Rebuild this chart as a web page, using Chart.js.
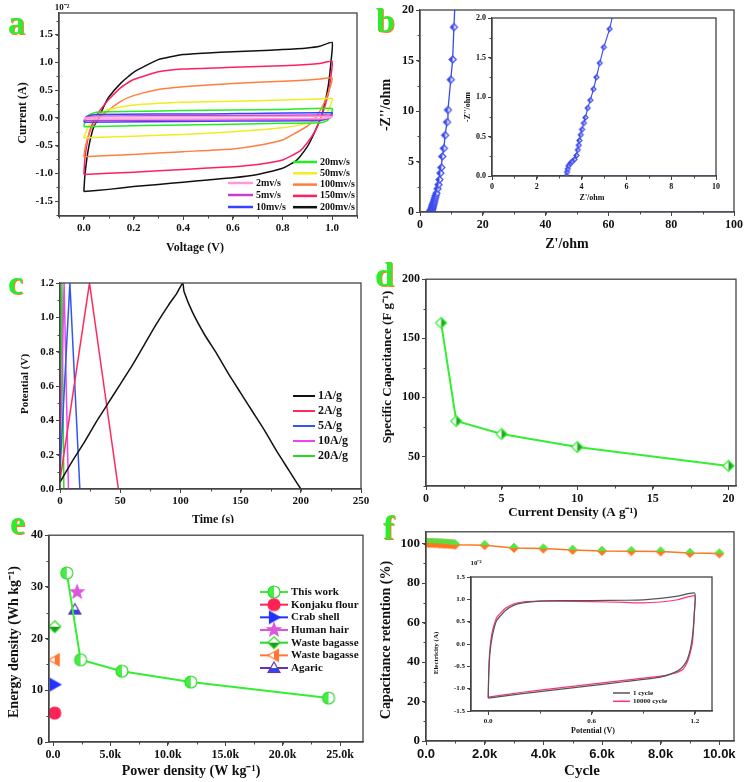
<!DOCTYPE html>
<html>
<head>
<meta charset="utf-8">
<script src="https://cdn.jsdelivr.net/npm/chart.js@4.4.1/dist/chart.umd.min.js"></script>
<style>
  html, body { margin: 0; padding: 0; background: #fff; }
  #fig { position: relative; width: 746px; height: 782px; overflow: hidden; background: #fff; }
  #fig canvas { position: absolute; }
  #clipC { position: absolute; left: 0; top: 0; width: 373px; height: 523px; overflow: hidden; }
  .tag { position: absolute; z-index: 5; font: bold 34px "Liberation Serif", serif; line-height: 1; color: #2cec2c; text-shadow: 1px 1px 0 #ff7a30; }
</style>
</head>
<body>
<div id="fig">
  <div id="clipC"></div>
  <div class="tag" style="left:8px;top:6px">a</div>
  <div class="tag" style="left:376px;top:4px">b</div>
  <div class="tag" style="left:8px;top:266px">c</div>
  <div class="tag" style="left:375px;top:258px">d</div>
  <div class="tag" style="left:10px;top:506px">e</div>
  <div class="tag" style="left:383px;top:511px">f</div>
</div>
<script>
// ---------- (a) CV at different scan rates (current x 10^-2 A)
const cvLabels = ['2mv/s', '5mv/s', '10mv/s', '20mv/s', '50mv/s', '100mv/s', '150mv/s', '200mv/s'];
const cvColors = ['#ff9ad8', '#c83cd0', '#3344ff', '#22ee22', '#eeee22', '#ff7f3f', '#ff1f5f', '#111111'];
const cvVsmall = [0.0, 0.01, 0.05, 0.5, 1.0, 0.99, 0.95, 0.5, 0.0];
const cvI2 = [-0.02, 0.0, 0.015, 0.02, 0.025, 0.0, -0.015, -0.02, -0.02];
const cvI5 = [-0.05, 0.01, 0.03, 0.04, 0.05, 0.0, -0.03, -0.04, -0.05];
const cvI10 = [-0.08, 0.02, 0.06, 0.07, 0.09, 0.0, -0.05, -0.06, -0.08];
const cvV20 = [0.0, 0.005, 0.02, 0.05, 0.1, 0.4, 0.8, 1.0, 0.995, 0.98, 0.95, 0.8, 0.4, 0.1, 0.0];
const cvI20 = [-0.16, -0.05, 0.05, 0.1, 0.11, 0.13, 0.15, 0.17, 0.05, -0.05, -0.09, -0.1, -0.13, -0.15, -0.16];
const cvV50 = [0.0, 0.005, 0.02, 0.05, 0.1, 0.2, 0.4, 0.6, 0.8, 0.95, 1.0, 0.995, 0.98, 0.95, 0.9, 0.8, 0.6, 0.4, 0.2, 0.0];
const cvI50 = [-0.36, -0.3, -0.15, 0.02, 0.15, 0.23, 0.28, 0.3, 0.32, 0.34, 0.35, 0.25, 0.1, -0.03, -0.1, -0.18, -0.25, -0.3, -0.33, -0.36];
const cvV100 = [0.0, 0.005, 0.02, 0.04, 0.07, 0.1, 0.15, 0.2, 0.3, 0.4, 0.6, 0.8, 0.9, 0.95, 1.0, 0.995, 0.98, 0.96, 0.93, 0.9, 0.85, 0.8, 0.7, 0.6, 0.4, 0.2, 0.0];
const cvI100 = [-0.7, -0.55, -0.3, -0.12, 0.03, 0.14, 0.3, 0.4, 0.51, 0.56, 0.62, 0.66, 0.68, 0.7, 0.72, 0.6, 0.4, 0.2, -0.02, -0.15, -0.28, -0.4, -0.5, -0.56, -0.61, -0.66, -0.7];
const cvV150 = [0.0, 0.005, 0.02, 0.04, 0.06, 0.08, 0.1, 0.15, 0.2, 0.3, 0.4, 0.6, 0.8, 0.9, 0.95, 1.0, 0.995, 0.985, 0.97, 0.95, 0.93, 0.9, 0.87, 0.8, 0.7, 0.6, 0.4, 0.2, 0.0];
const cvI150 = [-1.02, -0.7, -0.3, -0.05, 0.1, 0.22, 0.33, 0.55, 0.69, 0.83, 0.88, 0.91, 0.94, 0.96, 0.98, 1.02, 0.75, 0.45, 0.2, -0.05, -0.25, -0.45, -0.6, -0.76, -0.84, -0.88, -0.93, -0.98, -1.02];
const cvV200 = [0.0, 0.005, 0.02, 0.04, 0.06, 0.08, 0.1, 0.15, 0.2, 0.3, 0.4, 0.5, 0.6, 0.7, 0.8, 0.9, 0.95, 1.0, 0.995, 0.985, 0.97, 0.955, 0.94, 0.92, 0.9, 0.87, 0.85, 0.8, 0.7, 0.6, 0.5, 0.4, 0.3, 0.2, 0.1, 0.0];
const cvI200 = [-1.33, -1.0, -0.52, -0.16, 0.0, 0.2, 0.37, 0.63, 0.82, 1.05, 1.14, 1.17, 1.19, 1.21, 1.23, 1.26, 1.29, 1.36, 1.0, 0.6, 0.25, 0.0, -0.15, -0.35, -0.52, -0.7, -0.79, -0.91, -1.02, -1.08, -1.12, -1.16, -1.2, -1.24, -1.29, -1.33];

// ---------- (b) Nyquist plot
const zRe = [3.33, 3.35, 3.38, 3.42, 3.5, 3.57, 3.68, 3.77, 3.83, 3.87, 3.9, 3.96, 4.02, 4.1, 4.17, 4.27, 4.39, 4.53, 4.66, 4.81, 4.99, 5.25, 5.6, 5.9, 6.2, 6.5, 6.8, 7.1, 7.6, 8.0, 8.6, 8.9, 9.8, 10.4, 10.8, 11.2];
const zIm = [0.0, 0.05, 0.09, 0.13, 0.16, 0.18, 0.21, 0.26, 0.33, 0.39, 0.45, 0.52, 0.59, 0.67, 0.74, 0.86, 0.96, 1.1, 1.25, 1.43, 1.63, 1.86, 2.3, 2.7, 3.2, 3.85, 4.4, 5.5, 6.3, 7.6, 8.9, 10.1, 13.1, 15.1, 18.3, 21.0];
const zBaseRe = [5, 100];
const zBaseIm = [0, 0];
const zBaseInsetRe = [3.6, 10];

// ---------- (c) galvanostatic charge/discharge
const gcdLabels = ['1A/g', '2A/g', '5A/g', '10A/g', '20A/g'];
const gcdColors = ['#111111', '#ff2a5a', '#3355ee', '#ee44ee', '#22dd22'];
const gcdT1 = [0, 10, 20, 30, 40, 50, 60, 70, 80, 90, 97, 102, 103, 110, 120, 130, 140, 150, 160, 170, 180, 190, 200];
const gcdV1 = [0.04, 0.16, 0.27, 0.39, 0.5, 0.61, 0.72, 0.84, 0.96, 1.07, 1.14, 1.2, 1.15, 1.03, 0.9, 0.79, 0.67, 0.56, 0.45, 0.34, 0.22, 0.11, 0.0];
const gcdT2 = [0, 24.5, 48.5];
const gcdV2 = [0.05, 1.2, 0.0];
const gcdT5 = [0, 8.2, 16.5];
const gcdV5 = [0.1, 1.2, 0.0];
const gcdT10 = [0, 3.4, 7];
const gcdV10 = [0.15, 1.2, 0.0];
const gcdT20 = [0, 1.6, 3.2];
const gcdV20 = [0.25, 1.2, 0.0];

// ---------- (d) specific capacitance vs current density
const curDensity = [1, 2, 5, 10, 20];
const specCap = [163, 80, 69, 58, 42];

// ---------- (e) Ragone plot
const powThis = [1200, 2400, 6000, 12000, 24000];
const engThis = [32.7, 15.9, 13.7, 11.6, 8.5];
const refLabels = ['Konjaku flour', 'Crab shell', 'Human hair', 'Waste bagasse', 'Waste bagasse', 'Agaric'];
const refPow = [150, 150, 2100, 150, 150, 1900];
const refEng = [5.6, 11.1, 29.0, 22.3, 15.9, 25.6];

// ---------- (f) cycling stability + inset CV
const cycles = [0, 50, 100, 150, 200, 250, 300, 350, 400, 450, 500, 550, 600, 650, 700, 750, 800, 850, 900, 950, 1000, 2000, 3000, 4000, 5000, 6000, 7000, 8000, 9000, 10000];
const retention = [100.4, 100.5, 100.3, 100.4, 100.3, 100.4, 100.2, 100.3, 100.2, 100.1, 100.2, 100.0, 100.1, 99.9, 100.0, 99.9, 99.8, 99.8, 99.7, 99.6, 99.5, 99.2, 97.8, 97.5, 96.8, 96.3, 96.2, 96.0, 95.2, 95.0];
const cyc1V = [0.0, 0.003, 0.01, 0.025, 0.05, 0.1, 0.15, 0.2, 0.3, 0.4, 0.6, 0.8, 0.9, 1.0, 1.1, 1.2, 1.197, 1.19, 1.18, 1.165, 1.15, 1.12, 1.08, 1.0, 0.8, 0.6, 0.4, 0.2, 0.0];
const cyc1I = [-1.21, -0.7, -0.2, 0.2, 0.53, 0.75, 0.87, 0.92, 0.96, 0.97, 0.97, 0.98, 0.99, 1.02, 1.07, 1.14, 0.7, 0.3, 0.0, -0.25, -0.4, -0.55, -0.64, -0.74, -0.84, -0.93, -1.02, -1.11, -1.21];
const cyc10kV = [0.0, 0.003, 0.01, 0.025, 0.05, 0.1, 0.15, 0.2, 0.3, 0.4, 0.6, 0.8, 0.9, 1.0, 1.1, 1.2, 1.198, 1.192, 1.185, 1.17, 1.155, 1.13, 1.09, 1.0, 0.8, 0.6, 0.4, 0.2, 0.0];
const cyc10kI = [-1.19, -0.6, -0.1, 0.3, 0.6, 0.8, 0.9, 0.94, 0.96, 0.96, 0.95, 0.93, 0.92, 0.94, 0.99, 1.08, 0.7, 0.3, 0.0, -0.25, -0.42, -0.57, -0.65, -0.72, -0.81, -0.9, -0.99, -1.08, -1.19];

// ---------- helpers
const SERIF = 'Liberation Serif';
const fig = document.getElementById('fig');
const pts = (xs, ys) => xs.map((x, i) => ({ x, y: ys[i] }));
const f1 = v => v.toFixed(1);
const f0 = v => String(Math.round(v));
const fk = v => v === 0 ? '0.0' : (v / 1000).toFixed(1) + 'k';

// small canvas markers, optionally half filled
function marker(shape, size, line, fillA, fillB, split) {
  const c = document.createElement('canvas');
  c.width = c.height = size + 4;
  const g = c.getContext('2d'), m = c.width / 2, r = size / 2;
  const path = () => {
    g.beginPath();
    if (shape === 'circle') g.arc(m, m, r, 0, Math.PI * 2);
    else if (shape === 'diamond') { g.moveTo(m, m - r); g.lineTo(m + r, m); g.lineTo(m, m + r); g.lineTo(m - r, m); }
    else if (shape === 'triUp') { g.moveTo(m, m - r); g.lineTo(m + r, m + r * 0.75); g.lineTo(m - r, m + r * 0.75); }
    else if (shape === 'triRight') { g.moveTo(m + r, m); g.lineTo(m - r * 0.75, m - r); g.lineTo(m - r * 0.75, m + r); }
    else if (shape === 'triLeft') { g.moveTo(m - r, m); g.lineTo(m + r * 0.75, m - r); g.lineTo(m + r * 0.75, m + r); }
    else if (shape === 'star') {
      for (let k = 0; k < 10; k++) {
        const a = -Math.PI / 2 + k * Math.PI / 5, rr = k % 2 ? r * 0.42 : r;
        g.lineTo(m + rr * Math.cos(a), m + rr * Math.sin(a));
      }
    }
    g.closePath();
  };
  path(); g.fillStyle = fillB; g.fill();
  if (split) {
    g.save(); path(); g.clip(); g.fillStyle = fillA;
    if (split === 'left') g.fillRect(0, 0, m, c.height);
    if (split === 'right') g.fillRect(m, 0, m, c.height);
    if (split === 'top') g.fillRect(0, 0, c.width, m);
    if (split === 'bottom') g.fillRect(0, m, c.width, m);
    g.restore();
  }
  path(); g.lineWidth = 1.2; g.strokeStyle = line; g.stroke();
  return c;
}

// labelled (major) ticks at every multiple of step; minor ticks come from the deco plugin
function axis(min, max, step, fmt, size, fam) {
  return {
    type: 'linear', min, max,
    border: { color: '#444', width: 1.3 },
    grid: { drawOnChartArea: false, color: '#444', tickLength: 4, tickWidth: 1 },
    ticks: {
      autoSkip: false, maxRotation: 0, padding: 2, color: '#111',
      font: { family: fam || SERIF, size, weight: 'bold' },
      callback: v => fmt(v)
    },
    afterBuildTicks: s => {
      const t = [];
      for (let k = Math.ceil(min / step - 1e-9); k * step <= max + 1e-9; k++) t.push({ value: +(k * step).toFixed(6) });
      s.ticks = t;
    }
  };
}

function line(label, xs, ys, color, width, extra) {
  return Object.assign({ label, data: pts(xs, ys), showLine: true, borderColor: color, backgroundColor: color,
    borderWidth: width, pointRadius: 0, tension: 0 }, extra || {});
}

// frame, minor ticks, free texts and hand placed legends (page coordinates)
function decoPlugin(spec, ox, oy) {
  return {
    id: 'deco',
    afterDraw(chart) {
      const ctx = chart.ctx, a = chart.chartArea, sx = chart.scales.x, sy = chart.scales.y;
      ctx.save();
      ctx.strokeStyle = '#444'; ctx.lineWidth = 1.3;
      ctx.strokeRect(a.left, a.top, a.right - a.left, a.bottom - a.top);
      if (spec.minor) {
        const [mx, my] = spec.minor;
        ctx.lineWidth = 1;
        ctx.beginPath();
        for (let v = Math.ceil(sx.min / mx - 1e-9) * mx; v <= sx.max + 1e-9; v += mx) {
          const p = Math.round(sx.getPixelForValue(v)) + 0.5;
          ctx.moveTo(p, a.bottom); ctx.lineTo(p, a.bottom + 2.5);
        }
        for (let v = Math.ceil(sy.min / my - 1e-9) * my; v <= sy.max + 1e-9; v += my) {
          const p = Math.round(sy.getPixelForValue(v)) + 0.5;
          ctx.moveTo(a.left, p); ctx.lineTo(a.left - 2.5, p);
        }
        ctx.stroke();
      }
      ctx.fillStyle = '#111'; ctx.textBaseline = 'middle';
      (spec.texts || []).forEach(t => {
        ctx.save();
        ctx.translate(t.x - ox, t.y - oy);
        if (t.rot) ctx.rotate(t.rot * Math.PI / 180);
        ctx.font = 'bold ' + t.size + 'px "' + SERIF + '"';
        ctx.textAlign = 'center';
        ctx.fillText(t.text, 0, 0);
        ctx.restore();
      });
      (spec.legends || []).forEach(L => {
        L.items.forEach((di, i) => {
          const ds = chart.data.datasets[di];
          const x = L.x - ox, y = L.y + i * L.dy - oy;
          ctx.strokeStyle = ds.borderColor; ctx.lineWidth = L.lw;
          ctx.beginPath(); ctx.moveTo(x, y); ctx.lineTo(x + L.len, y); ctx.stroke();
          if (L.marks && ds.pointStyle) {
            const p = ds.pointStyle;
            ctx.drawImage(p, x + L.len / 2 - p.width / 2, y - p.height / 2);
          }
          ctx.font = 'bold ' + L.size + 'px "' + SERIF + '"';
          ctx.textAlign = 'left';
          ctx.fillText(ds.label, x + L.len + 3, y);
        });
      });
      ctx.restore();
    }
  };
}

// box = plot area in page pixels, pad = room for ticks/titles around it
function panel(parent, box, pad, datasets, xAxis, yAxis, spec) {
  const c = document.createElement('canvas');
  const W = box.w + pad.l + pad.r, H = box.h + pad.t + pad.b;
  const ox = box.x - pad.l, oy = box.y - pad.t;
  c.width = W; c.height = H;
  c.style.left = ox + 'px'; c.style.top = oy + 'px';
  c.style.width = W + 'px'; c.style.height = H + 'px';
  parent.appendChild(c);
  xAxis.afterFit = s => { s.height = pad.b; };
  yAxis.afterFit = s => { s.width = pad.l; };
  return new Chart(c, {
    type: 'scatter',
    data: { datasets },
    options: {
      responsive: false, animation: false, events: [],
      layout: { padding: { left: 0, top: pad.t, right: pad.r, bottom: 0 } },
      plugins: { legend: { display: false }, tooltip: { enabled: false } },
      scales: { x: xAxis, y: yAxis }
    },
    plugins: [decoPlugin(spec, ox, oy)]
  });
}

// ---------- (a)
const cvV = [cvVsmall, cvVsmall, cvVsmall, cvV20, cvV50, cvV100, cvV150, cvV200];
const cvI = [cvI2, cvI5, cvI10, cvI20, cvI50, cvI100, cvI150, cvI200];
panel(fig, { x: 59, y: 13, w: 298, h: 203 }, { l: 56, t: 13, r: 16, b: 42 },
  cvLabels.map((l, i) => line(l, cvV[i], cvI[i], cvColors[i], 1.5, { tension: 0.15 })),
  axis(-0.1, 1.1, 0.2, f1, 11), axis(-1.77, 1.89, 0.5, f1, 11),
  {
    minor: [0.1, 0.25],
    texts: [
      { text: 'Current (A)', x: 23, y: 113, rot: -90, size: 12 },
      { text: 'Voltage (V)', x: 195, y: 248, size: 12 },
      { text: '10\u207B\u00B2', x: 62, y: 8, size: 9 }
    ],
    legends: [
      { x: 228, y: 183, dy: 12, len: 25, lw: 2.5, size: 10, items: [0, 1, 2] },
      { x: 293, y: 162, dy: 11.3, len: 24, lw: 2.5, size: 10, items: [3, 4, 5, 6, 7] }
    ]
  });

// ---------- (b) main + inset
const bMark = marker('diamond', 7, '#3a48ee', '#3a48ee', '#ffffff', 'left');
const bMarkS = marker('diamond', 5, '#3a48ee', '#3a48ee', '#ffffff', 'left');
panel(fig, { x: 420, y: 10, w: 314, h: 202 }, { l: 45, t: 10, r: 12, b: 42 },
  [
    line('Nyquist', zRe, zIm, '#3a48ee', 1.3, { pointRadius: 3, pointStyle: bMark }),
    line('base', zBaseRe, zBaseIm, '#7d88ff', 1)
  ],
  axis(0, 100, 20, f0, 12), axis(0, 20, 5, f0, 12),
  { minor: [10, 2.5],
    texts: [
      { text: "-Z''/ohm", x: 386, y: 105, rot: -90, size: 14 },
      { text: "Z'/ohm", x: 567, y: 244, size: 14 }
  ] });
panel(fig, { x: 492, y: 18, w: 224, h: 158 }, { l: 32, t: 8, r: 12, b: 28 },
  [
    line('Nyquist', zRe, zIm, '#3a48ee', 1.1, { pointRadius: 3, pointStyle: bMarkS }),
    line('base', zBaseInsetRe, zBaseIm, '#7d88ff', 1)
  ],
  axis(0, 10, 2, f0, 8), axis(0, 2, 0.5, f1, 8),
  { minor: [1, 0.25],
    texts: [
      { text: "-Z''/ohm", x: 468, y: 107, rot: -90, size: 8 },
      { text: "Z'/ohm", x: 592, y: 198, size: 8 }
  ] });

// ---------- (c)
const gcdT = [gcdT1, gcdT2, gcdT5, gcdT10, gcdT20];
const gcdV = [gcdV1, gcdV2, gcdV5, gcdV10, gcdV20];
panel(document.getElementById('clipC'), { x: 60, y: 283, w: 301, h: 206 }, { l: 56, t: 10, r: 12, b: 40 },
  gcdLabels.map((l, i) => line(l, gcdT[i], gcdV[i], gcdColors[i], 1.5, { tension: i === 0 ? 0.2 : 0 })),
  axis(0, 250, 50, f0, 11), axis(0, 1.2, 0.2, f1, 11),
  {
    minor: [25, 0.1],
    texts: [
      { text: 'Potential (V)', x: 25, y: 384, rot: -90, size: 11 },
      { text: 'Time (s)', x: 213, y: 520, size: 12 }
    ],
    legends: [{ x: 293, y: 396, dy: 15, len: 22, lw: 2, size: 12, items: [0, 1, 2, 3, 4] }]
  });

// ---------- (d)
const dMark = marker('diamond', 11, '#33ee33', '#1fa81f', '#ffffff', 'right');
panel(fig, { x: 426, y: 278, w: 310, h: 208 }, { l: 50, t: 8, r: 10, b: 36 },
  [line('Specific capacitance', curDensity, specCap, '#33ee33', 2, { pointRadius: 4, pointStyle: dMark })],
  axis(0, 20.5, 5, f0, 12), axis(25, 200, 50, f0, 12),
  { minor: [2.5, 25],
    texts: [
      { text: 'Specific Capacitance (F g\u207B\u00B9)', x: 388, y: 367, rot: -90, size: 13 },
      { text: 'Current Density (A g\u207B\u00B9)', x: 573, y: 513, size: 13 }
  ] });

// ---------- (e)
const eMarks = [
  marker('circle', 12, '#2fd82f', '#44ee44', '#ffffff', 'left'),
  marker('circle', 12, '#ff2255', '#ff2255', '#ff2255'),
  marker('triRight', 12, '#2233ff', '#2233ff', '#2233ff'),
  marker('star', 14, '#dd55dd', '#dd55dd', '#dd55dd'),
  marker('diamond', 12, '#22dd22', '#1f9a1f', '#ffffff', 'bottom'),
  marker('triLeft', 12, '#ff7733', '#ff7733', '#ffffff', 'right'),
  marker('triUp', 12, '#6a33b0', '#3344ee', '#ffffff', 'bottom')
];
const eColors = ['#33ee33', '#ff2255', '#2233ff', '#dd55dd', '#22dd22', '#ff7733', '#6a33b0'];
panel(fig, { x: 49, y: 534, w: 314, h: 208 }, { l: 46, t: 8, r: 10, b: 40 },
  [line('This work', powThis, engThis, eColors[0], 2, { pointRadius: 4, pointStyle: eMarks[0] })].concat(
    refLabels.map((l, i) => ({ label: l, data: [{ x: refPow[i], y: refEng[i] }], showLine: false,
      borderColor: eColors[i + 1], backgroundColor: eColors[i + 1], pointRadius: 4, pointStyle: eMarks[i + 1] }))),
  axis(-350, 27000, 5000, fk, 12), axis(0, 40, 10, f0, 12),
  {
    minor: [2500, 5],
    texts: [
      { text: 'Energy density (Wh kg\u207B\u00B9)', x: 14, y: 642, rot: -90, size: 14 },
      { text: 'Power density (W kg\u207B\u00B9)', x: 191, y: 771, size: 14 }
    ],
    legends: [{ x: 260, y: 592, dy: 12.67, len: 28, lw: 2, size: 11, marks: true, items: [0, 1, 2, 3, 4, 5, 6] }]
  });

// ---------- (f) main + inset
const fMark = marker('diamond', 10, 'rgba(0,0,0,0)', '#44ee44', '#ff7722', 'top');
panel(fig, { x: 426, y: 530, w: 308, h: 211 }, { l: 50, t: 8, r: 12, b: 41 },
  [line('Retention', cycles, retention, '#ff7722', 1.5, { pointRadius: 4, pointStyle: fMark })],
  axis(0, 10500, 2000, fk, 13, 'Liberation Sans'), axis(0, 106, 20, f0, 13),
  { minor: [1000, 10],
    texts: [
      { text: 'Capacitance retention (%)', x: 386, y: 640, rot: -90, size: 14 },
      { text: 'Cycle', x: 582, y: 771, size: 15 }
  ] });
panel(fig, { x: 471, y: 577, w: 241, h: 134 }, { l: 40, t: 20, r: 12, b: 26 },
  [
    line('1 cycle', cyc1V, cyc1I, '#555555', 1.2, { tension: 0.15 }),
    line('10000 cycle', cyc10kV, cyc10kI, '#ff3377', 1.2, { tension: 0.15 })
  ],
  axis(-0.1, 1.3, 0.6, f1, 7), axis(-1.5, 1.5, 0.5, f1, 7),
  {
    minor: [0.3, 0.5],
    texts: [
      { text: 'Electricity (A)', x: 436, y: 653, rot: -90, size: 7 },
      { text: 'Potential (V)', x: 593, y: 731, size: 8 },
      { text: '10\u207B\u00B2', x: 476, y: 563, size: 7 }
    ],
    legends: [{ x: 613, y: 693, dy: 8.3, len: 17, lw: 1.5, size: 7, items: [0, 1] }]
  });
</script>
</body>
</html>
